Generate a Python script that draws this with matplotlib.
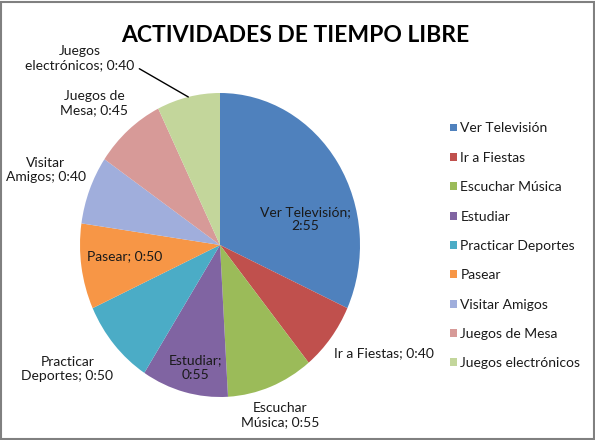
import numpy as np
import matplotlib
matplotlib.use('Agg')
import matplotlib.pyplot as plt
from matplotlib.patches import Rectangle

plt.rcParams['font.family'] = ['Lato', 'DejaVu Sans']

# datos: minutos por actividad
actividades = ['Ver Televisión', 'Ir a Fiestas', 'Escuchar Música', 'Estudiar',
               'Practicar Deportes', 'Pasear', 'Visitar Amigos',
               'Juegos de Mesa', 'Juegos electrónicos']
minutos = [175, 40, 55, 55, 50, 50, 40, 45, 40]
etiquetas = ['Ver Televisión;\n2:55', 'Ir a Fiestas; 0:40', 'Escuchar\nMúsica; 0:55',
             'Estudiar;\n0:55', 'Practicar\nDeportes; 0:50', 'Pasear; 0:50',
             'Visitar\nAmigos; 0:40', 'Juegos de\nMesa; 0:45',
             'Juegos\nelectrónicos; 0:40']

colores = ['#4F81BD', '#C0504D', '#9BBB59', '#8064A2', '#4BACC6', '#F79646',
           '#A0AEDC', '#D79A98', '#C3D69B']

# posicion de las etiquetas: radio y desplazamiento angular respecto al centro de la porcion
lab_r = [0.63, 1.366, 1.20, 0.825, 1.363, 0.683, 1.337, 1.295, 1.588]
lab_shift = [-17.2, 6.4, -0.2, 2.5, -4, -2.2, -0.3, 3.1, 26.1]

fig = plt.figure(figsize=(5.95, 4.40), dpi=100)
ax = fig.add_axes([80/595, 43/440, 280/595, 304/440])

wedges, _ = ax.pie(minutos, colors=colores, startangle=90, counterclock=False,
                   wedgeprops=dict(linewidth=0))
ax.set_aspect('auto')
ax.set_xlim(-1, 1)
ax.set_ylim(-1, 1)
ax.axis('off')

for i, (w, txt) in enumerate(zip(wedges, etiquetas)):
    mid = (w.theta1 + w.theta2) / 2
    ang = np.deg2rad(mid + lab_shift[i])
    x, y = lab_r[i] * np.cos(ang), lab_r[i] * np.sin(ang)
    if i == len(wedges) - 1:
        # etiqueta con linea guia
        m = np.deg2rad(mid)
        ax.annotate(txt, xy=(np.cos(m), np.sin(m)), xytext=(x, y),
                    ha='center', va='center', fontsize=10, color='#1a1a1a',
                    linespacing=1.2, annotation_clip=False,
                    arrowprops=dict(arrowstyle='-', color='black', lw=1,
                                    relpos=(1.0, 0.2), shrinkA=2, shrinkB=0))
    else:
        ax.text(x, y, txt, ha='center', va='center', fontsize=10,
                color='#1a1a1a', linespacing=1.2, clip_on=False)

fig.legend(wedges, actividades, loc='upper left',
           bbox_to_anchor=(443/595, 1 - 115.5/440), frameon=False,
           fontsize=10, handlelength=0.5, handleheight=0.5,
           handletextpad=0.25, labelspacing=1.25, borderpad=0,
           labelcolor='#1a1a1a')

fig.text(0.497, 1 - 35/440, 'ACTIVIDADES DE TIEMPO LIBRE', ha='center',
         va='center', fontsize=16.5, fontweight='bold', color='black')

fig.patches.append(Rectangle((0.002, 0.002), 0.996, 0.994, transform=fig.transFigure,
                             fill=False, edgecolor='#808080', lw=1.5))

fig.savefig('out.png', dpi=100)
